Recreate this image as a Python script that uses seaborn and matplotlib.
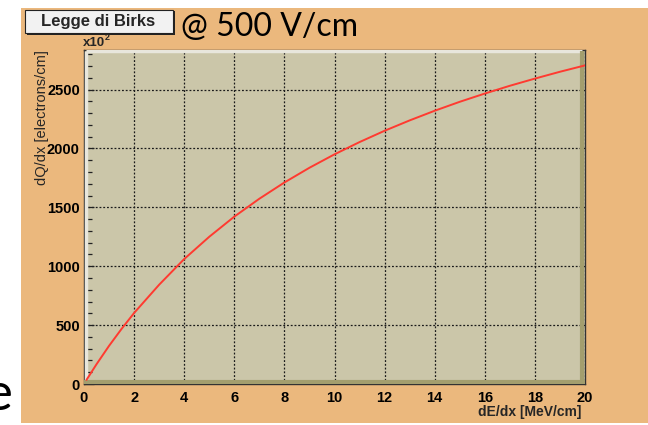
import matplotlib
matplotlib.use("Agg")
import matplotlib.pyplot as plt
import matplotlib.patches as mpatches
from matplotlib.ticker import MultipleLocator
import seaborn as sns
import pandas as pd

# Data (dE/dx in MeV/cm, dQ/dx in units of 10^2 electrons/cm)
dedx = [0.1, 0.5, 1, 1.5, 2, 3, 4, 5, 6, 7, 8, 9, 10, 11, 12, 13, 14, 15, 16, 17, 18, 19, 20]
dqdx = [35, 168, 324, 468, 603, 843, 1061, 1250, 1421, 1573, 1711, 1836, 1950, 2054,
        2150, 2238, 2320, 2396, 2466, 2532, 2593, 2651, 2705]
x_ticks = [0, 2, 4, 6, 8, 10, 12, 14, 16, 18, 20]
y_ticks = [0, 500, 1000, 1500, 2000, 2500]

df = pd.DataFrame({"dE/dx": dedx, "dQ/dx": dqdx})

sns.set_style("ticks")
plt.rcParams["font.family"] = ["Liberation Sans", "DejaVu Sans"]

W, H = 648, 425
fig = plt.figure(figsize=(W / 100, H / 100), dpi=100)
fig.patch.set_facecolor("white")

ORANGE = "#EBB87D"
PLOTBG = "#CBC6A9"

# orange pad background
fig.patches.append(mpatches.Rectangle((21 / W, 1 - 423 / H), 1 - 21 / W, (423 - 8) / H,
                                      transform=fig.transFigure, facecolor=ORANGE,
                                      edgecolor="none", zorder=-5))

ax = fig.add_axes([84 / W, 1 - 384 / H, (585 - 84) / W, (384 - 49.5) / H])
ax.set_zorder(5)
ax.set_facecolor(PLOTBG)

sns.lineplot(data=df, x="dE/dx", y="dQ/dx", ax=ax, color="#FF3A30", linewidth=1.4, zorder=5)

ax.set_xlim(0, 20)
ax.set_ylim(0, 2840)
ax.set_xticks(x_ticks)
ax.set_yticks(y_ticks)
ax.set_xticklabels([str(v) for v in x_ticks], fontweight="bold", fontsize=10.5)
ax.set_yticklabels([str(v) for v in y_ticks], fontweight="bold", fontsize=10.5)
ax.xaxis.set_minor_locator(MultipleLocator(0.5))
ax.yaxis.set_minor_locator(MultipleLocator(100))
ax.tick_params(axis="both", which="both", direction="in", colors="#222222", labelcolor="black")
ax.tick_params(axis="x", which="major", length=0, pad=5)
ax.tick_params(axis="x", which="minor", length=3, width=0.9)
ax.tick_params(axis="y", which="major", length=7, width=0.9, pad=3)
ax.tick_params(axis="y", which="minor", length=6, width=0.9)
ax.set_xlabel("")
ax.set_ylabel("")

ax.grid(True, which="major", color="#1a1a1a", linestyle=(0, (1.5, 1.5)), linewidth=0.9)
ax.set_axisbelow(True)
for s in ax.spines.values():
    s.set_color("#333333")
    s.set_linewidth(1.0)

# bevel of the frame
ax.plot([0.004, 0.004], [0, 0.995], transform=ax.transAxes, color="#E8E6DC",
        linewidth=2.5, zorder=3, solid_capstyle="butt")
ax.plot([0.004, 0.995], [0.995, 0.995], transform=ax.transAxes, color="#E8E6DC",
        linewidth=2.5, zorder=3, solid_capstyle="butt")
ax.plot([0.0, 1.0], [0.006, 0.006], transform=ax.transAxes, color="#A39E6E",
        linewidth=3, zorder=3, solid_capstyle="butt")
ax.plot([0.995, 0.995], [0.0, 0.997], transform=ax.transAxes, color="#A39E6E",
        linewidth=3, zorder=3, solid_capstyle="butt")

# axis labels
fig.text(581 / W, 1 - 412 / H, "dE/dx [MeV/cm]", ha="right", va="center",
         fontsize=10, fontweight="bold")
fig.text(42 / W, 1 - 50 / H, "dQ/dx [electrons/cm]", ha="center", va="top",
         rotation=90, fontsize=10.5, zorder=10)
fig.text(83 / W, 1 - 43 / H, "x10", ha="left", va="center", fontsize=9.5,
         fontweight="bold", zorder=10)
fig.text(105 / W, 1 - 38 / H, "2", ha="left", va="center", fontsize=6.5,
         fontweight="bold", zorder=10)

# title box
fig.patches.append(mpatches.Rectangle((27 / W, 1 - 35 / H), (175 - 27) / W, (35 - 11) / H,
                                      transform=fig.transFigure, facecolor="#222222",
                                      edgecolor="none", zorder=2))
fig.patches.append(mpatches.Rectangle((25 / W, 1 - 33 / H), (173 - 25) / W, (33 - 10) / H,
                                      transform=fig.transFigure, facecolor="#F2F2F2",
                                      edgecolor="#222222", linewidth=0.8, zorder=3))
fig.text(98 / W, 1 - 21.5 / H, "Legge di Birks", ha="center", va="center",
         fontsize=12, fontweight="bold", zorder=4)

fig.text(181 / W, 1 - 36 / H, "@ 500 V/cm", ha="left", va="baseline", color="black",
         fontsize=23, family=["Lato", "DejaVu Sans"], zorder=4)
fig.text(13 / W, 1 - 410 / H, "e", ha="right", va="baseline", color="black",
         fontsize=38, family=["Lato", "DejaVu Sans"], zorder=4)

fig.savefig("out.png", dpi=100, facecolor=fig.get_facecolor())
